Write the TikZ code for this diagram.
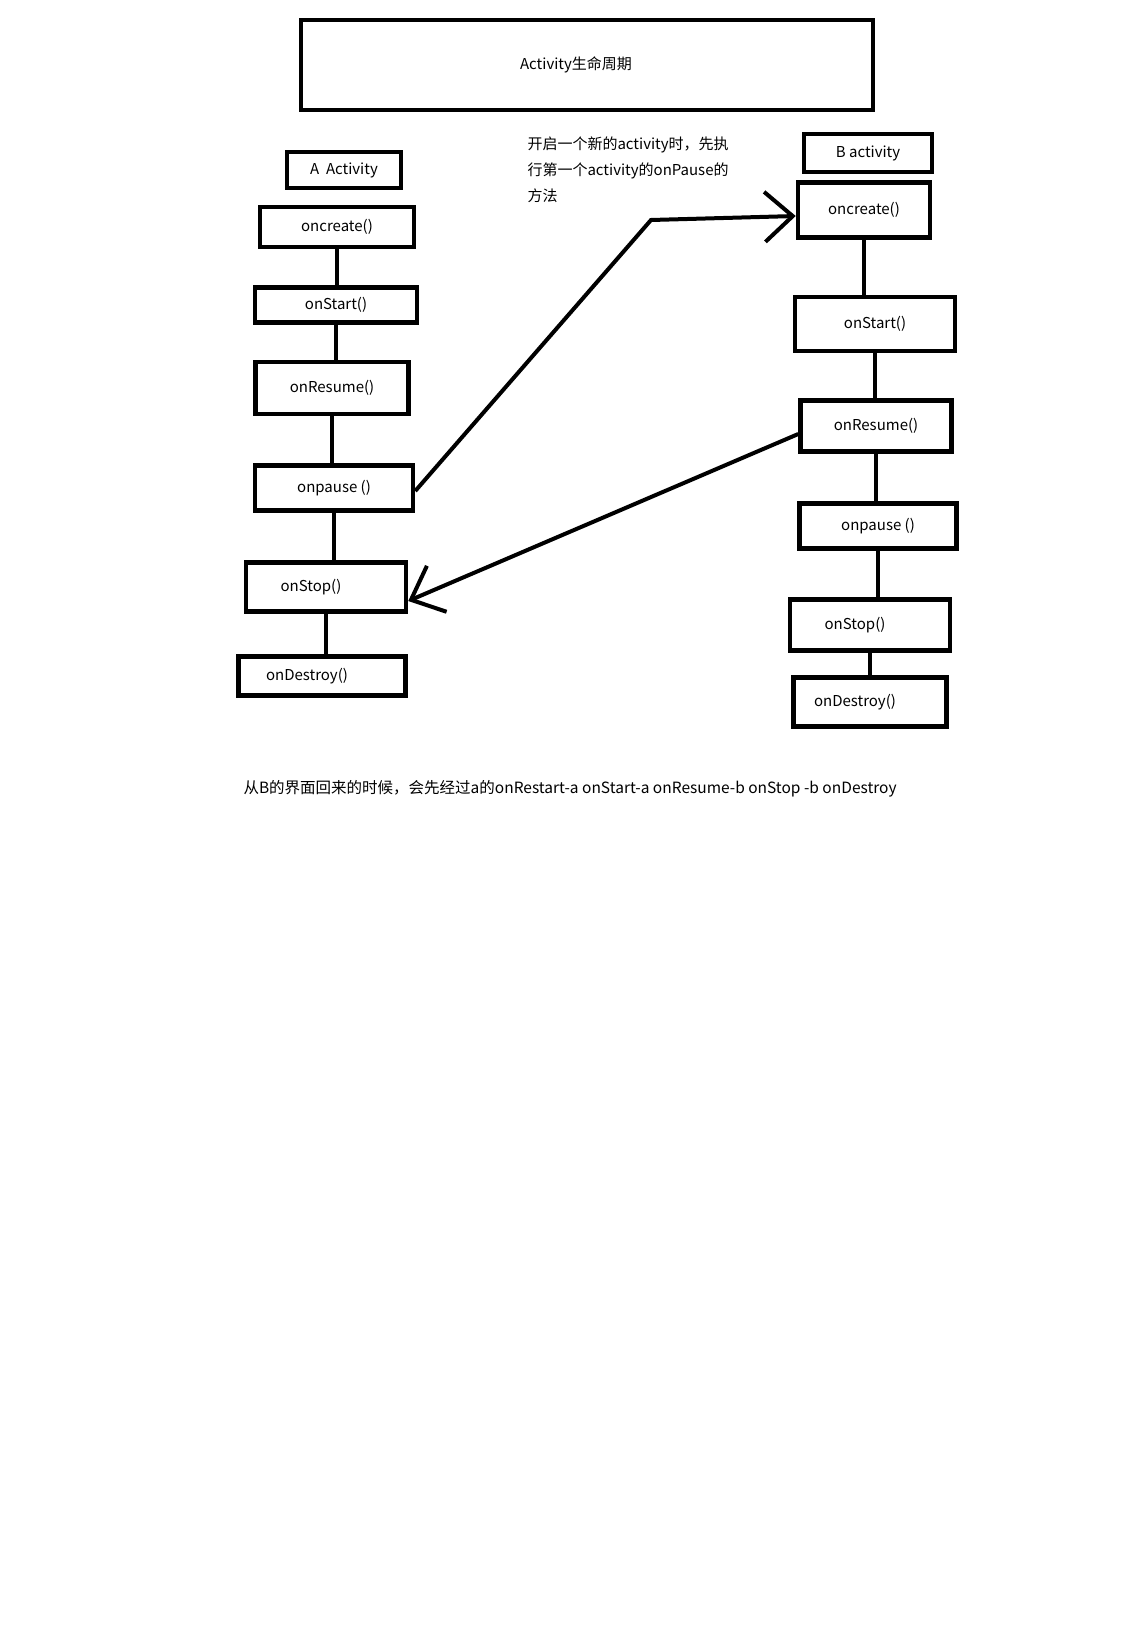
\documentclass[tikz,border=0pt]{standalone}
\usepackage{fontspec}
\setmainfont{Noto Sans CJK SC}
\usetikzlibrary{positioning,arrows.meta}

\begin{document}
\begin{tikzpicture}[x=1pt, y=-1pt,
    box/.style={draw, rectangle, line width=4.5pt, align=center, font=\fontsize{15}{20}\selectfont},
    link/.style={line width=4.5pt},
    flow/.style={line width=4pt, -{Straight Barb[length=28pt, width=50pt]}},
    txt/.style={align=left, font=\fontsize{15}{26}\selectfont}]
    \path[fill=white, use as bounding box] (0,0) rectangle (1146,1638);

    \node[box, minimum width=572pt, minimum height=90pt] (title) at (587,65) {Activity生命周期\hspace{22pt}};

    % A activity
    \node[box, minimum width=114pt, minimum height=36pt] (aname) at (344,170) {A\ \ Activity};
    \node[box, minimum width=154pt, minimum height=40pt] (acreate) at (337,227) {oncreate()};
    \node[box, minimum width=162pt, minimum height=35pt] (astart) at (336,305) {onStart()};
    \node[box, minimum width=153pt, minimum height=52pt] (aresume) at (332,388) {onResume()};
    \node[box, minimum width=158pt, minimum height=45pt] (apause) at (334,488) {onpause ()};
    \node[box, minimum width=160pt, minimum height=49pt] (astop) at (326,587) {onStop()\hspace{30pt}};
    \node[box, minimum width=167pt, minimum height=39pt] (adestroy) at (322,676) {onDestroy()\hspace{30pt}};

    \draw[link] (acreate.south) -- (acreate.south |- astart.north);
    \draw[link] (astart.south) -- (astart.south |- aresume.north);
    \draw[link] (aresume.south) -- (aresume.south |- apause.north);
    \draw[link] (apause.south) -- (apause.south |- astop.north);
    \draw[link] (astop.south) -- (astop.south |- adestroy.north);

    % B activity
    \node[box, minimum width=128pt, minimum height=38pt] (bname) at (868,153) {B activity};
    \node[box, minimum width=132pt, minimum height=55pt] (bcreate) at (864,210) {oncreate()};
    \node[box, minimum width=160pt, minimum height=54pt] (bstart) at (875,324) {onStart()};
    \node[box, minimum width=151pt, minimum height=51pt] (bresume) at (876,426) {onResume()};
    \node[box, minimum width=157pt, minimum height=45pt] (bpause) at (878,526) {onpause ()};
    \node[box, minimum width=160pt, minimum height=51pt] (bstop) at (870,625) {onStop()\hspace{30pt}};
    \node[box, minimum width=153pt, minimum height=49pt] (bdestroy) at (870,702) {onDestroy()\hspace{30pt}};

    \draw[link] (bcreate.south) -- (bcreate.south |- bstart.north);
    \draw[link] (bstart.south) -- (bstart.south |- bresume.north);
    \draw[link] (bresume.south) -- (bresume.south |- bpause.north);
    \draw[link] (bpause.south) -- (bpause.south |- bstop.north);
    \draw[link] (bstop.south) -- (bstop.south |- bdestroy.north);

    \node[txt, anchor=north west] (note) at (524,133) {开启一个新的activity时，先执\\行第一个activity的onPause的\\方法};

    % A pause -> B create, B resume -> A stop
    \coordinate (bend) at (651,220);
    \draw[flow] ([yshift=-3pt]apause.east) -- (bend) -- ([yshift=-6pt]bcreate.west);
    \draw[flow] ([yshift=-8pt]bresume.west) -- ([yshift=-14pt]astop.east);

    \node[txt, anchor=west, font=\fontsize{15.5}{26}\selectfont] (back) at (240,789) {从B的界面回来的时候，会先经过a的onRestart-a onStart-a onResume-b onStop -b onDestroy};
\end{tikzpicture}
\end{document}
